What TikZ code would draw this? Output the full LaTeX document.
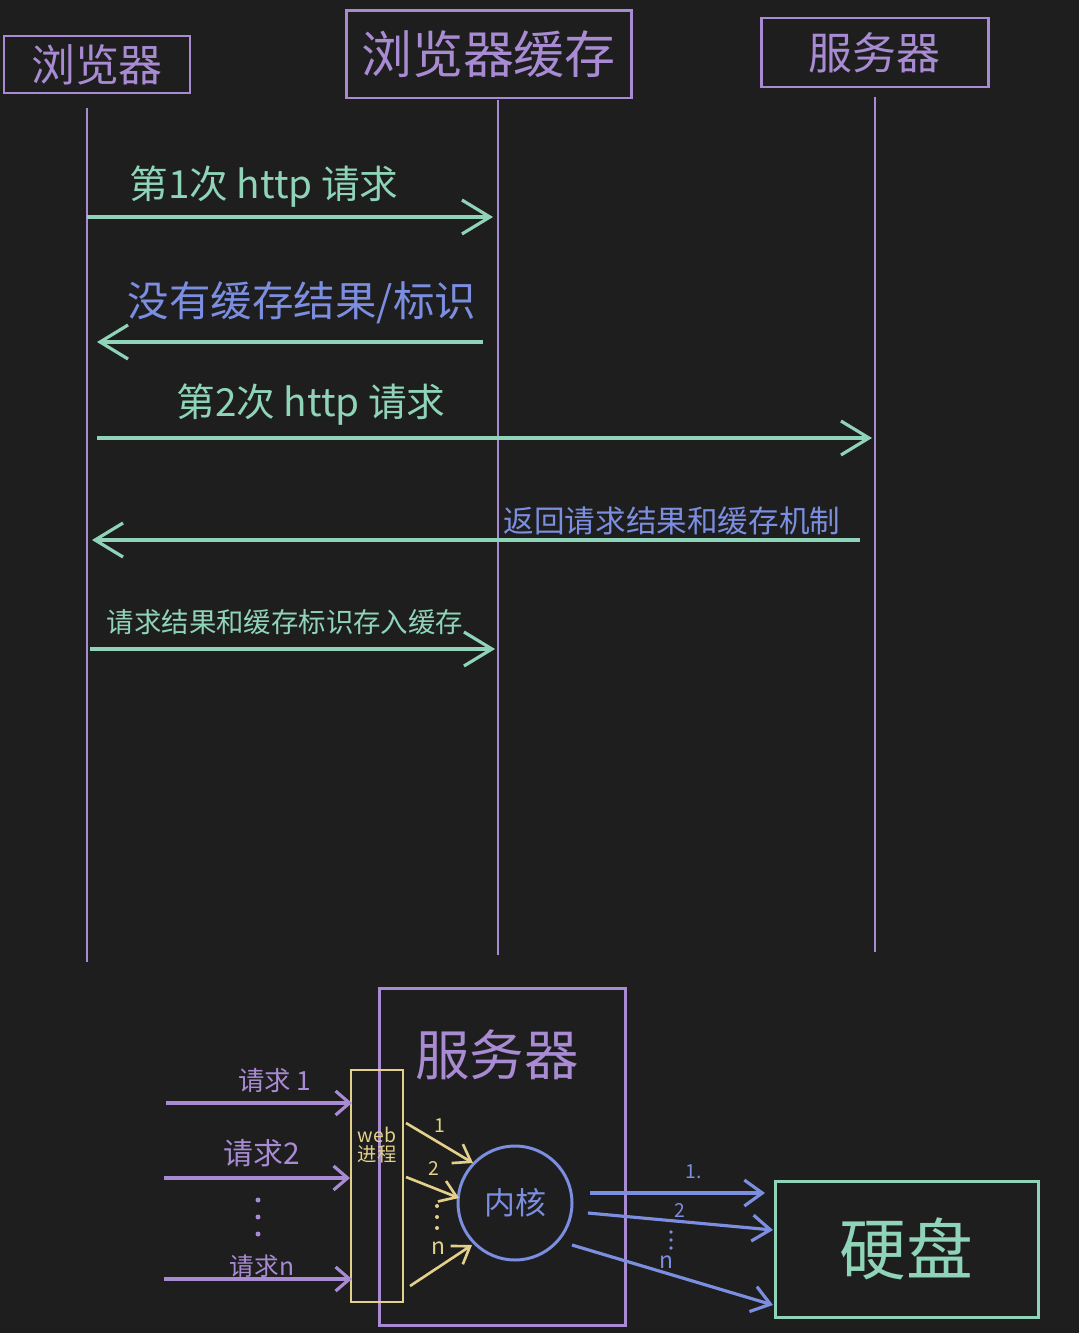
\documentclass[tikz,border=0pt]{standalone}
\usepackage{fontspec}
\newfontfamily\cjk{Noto Sans CJK SC}
\usetikzlibrary{arrows.meta}
\definecolor{bg}{HTML}{1E1E1E}
\definecolor{lila}{HTML}{A98BD3}
\definecolor{mint}{HTML}{8FD4B8}
\definecolor{blau}{HTML}{7C8EE0}
\definecolor{gelb}{HTML}{E3D08A}
\tikzset{
  box/.style={draw=lila,line width=0.85pt,text=lila,inner sep=0pt},
  life/.style={draw=lila,line width=0.55pt},
  msg/.style={draw=mint,line width=0.9pt,-{Straight Barb[length=2.8mm,width=3.4mm,line width=0.9pt]}},
  req/.style={draw=lila,line width=0.9pt,-{Straight Barb[length=1.4mm,width=2.4mm,line width=0.9pt]}},
  web/.style={draw=gelb,line width=0.75pt,-{Straight Barb[length=1.6mm,width=2.2mm,line width=0.75pt]}},
  io/.style={draw=blau,line width=0.9pt,-{Straight Barb[length=1.8mm,width=2.6mm,line width=0.9pt]}},
  lbl/.style={font=\cjk\fontsize{#1}{#1}\selectfont,inner sep=0pt},
}
\begin{document}
\begin{tikzpicture}[x=0.1mm,y=-0.1mm]
\useasboundingbox[fill=bg] (0,0) rectangle (1079,1333);
\node[box,minimum width=18.6mm,minimum height=5.7mm,lbl=12.5] (br) at (97,64.5) {浏览器};
\node[box,minimum width=28.5mm,minimum height=8.7mm,lbl=14.5] (ca) at (488.5,54.5) {浏览器缓存};
\node[box,minimum width=22.7mm,minimum height=6.9mm,lbl=12.5] (sv) at (874.5,52.5) {服务器};
\coordinate (brT) at (87,108);
\coordinate (brB) at (87,962);
\coordinate (caT) at (498,100);
\coordinate (caB) at (498,955);
\coordinate (svT) at (875,97);
\coordinate (svB) at (875,952);
\draw[life] (brT)--(brB);
\draw[life] (caT)--(caB);
\draw[life] (svT)--(svB);
\coordinate (m1a) at (87,217);
\coordinate (m1b) at (493,217);
\coordinate (m2a) at (483,342);
\coordinate (m2b) at (97,342);
\coordinate (m3a) at (97,438);
\coordinate (m3b) at (872,438);
\coordinate (m4a) at (860,540);
\coordinate (m4b) at (92,540);
\coordinate (m5a) at (90,649);
\coordinate (m5b) at (495,649);
\draw[msg] (m1a)--(m1b);
\draw[msg] (m2a)--(m2b);
\draw[msg] (m3a)--(m3b);
\draw[msg] (m4a)--(m4b);
\draw[msg] (m5a)--(m5b);
\node[lbl=11,text=mint] (t1) at (264,187) {第1次 http 请求};
\node[lbl=11.8,text=blau] (t2) at (302,303) {没有缓存结果/标识};
\node[lbl=11,text=mint] (t3) at (311,405) {第2次 http 请求};
\node[lbl=8.7,text=blau] (t4) at (672,521) {返回请求结果和缓存机制};
\node[lbl=7.8,text=mint] (t5) at (285,622) {请求结果和缓存标识存入缓存};
\node[box,minimum width=24.6mm,minimum height=33.7mm] (srv) at (502,1156.5) {};
\node[lbl=15.5,text=lila] (srvT) at (497,1055) {服务器};
\node[draw=gelb,line width=0.75pt,minimum width=5.2mm,minimum height=23.2mm,inner sep=0pt] (wp) at (377,1186) {};
\node[lbl=5.5,text=gelb,align=center] (wpT) at (377,1145) {web\\进程};
\coordinate (r1a) at (166,1103);
\coordinate (r1b) at (352,1103);
\coordinate (r2a) at (164,1178);
\coordinate (r2b) at (350,1178);
\coordinate (r3a) at (164,1279);
\coordinate (r3b) at (352,1279);
\draw[req] (r1a)--(r1b);
\draw[req] (r2a)--(r2b);
\draw[req] (r3a)--(r3b);
\node[lbl=7.5,text=lila] (q1) at (275,1080) {请求 1};
\node[lbl=8.5,text=lila] (q2) at (262,1153) {请求2};
\node[lbl=7,text=lila] (q3) at (262,1266) {请求n};
\foreach \y in {1200,1217,1234} \fill[lila] (258,\y) circle (0.25mm);
\node[draw=blau,line width=0.85pt,circle,minimum size=11.4mm,inner sep=0pt,lbl=8.8,text=blau] (kern) at (515,1203) {内核};
\coordinate (w1a) at (406,1123);
\coordinate (w1b) at (473,1163);
\coordinate (w2a) at (406,1177);
\coordinate (w2b) at (459,1198);
\coordinate (w3a) at (410,1286);
\coordinate (w3b) at (472,1245);
\draw[web] (w1a)--(w1b);
\draw[web] (w2a)--(w2b);
\draw[web] (w3a)--(w3b);
\node[lbl=5.5,text=gelb] (n1) at (440,1126) {1};
\node[lbl=5.5,text=gelb] (n2) at (434,1168) {2};
\foreach \y in {1206,1217,1228} \fill[gelb] (437,\y) circle (0.2mm);
\node[lbl=6.5,text=gelb] (n3) at (438,1248) {n};
\node[draw=mint,line width=0.85pt,minimum width=26.3mm,minimum height=13.6mm,inner sep=0pt,lbl=19,text=mint] (hd) at (906.5,1249) {硬盘};
\coordinate (d1a) at (590,1193);
\coordinate (d1b) at (765,1193);
\coordinate (d2a) at (588,1213);
\coordinate (d2b) at (773,1230);
\coordinate (d3a) at (572,1245);
\coordinate (d3b) at (773,1305);
\draw[io] (d1a)--(d1b);
\draw[io] (d2a)--(d2b);
\draw[io] (d3a)--(d3b);
\node[lbl=5.5,text=blau] (o1) at (694,1172) {1.};
\node[lbl=5.5,text=blau] (o2) at (680,1210) {2};
\foreach \y in {1232,1240,1248} \fill[blau] (671,\y) circle (0.18mm);
\node[lbl=6.5,text=blau] (o3) at (666,1262) {n};
\end{tikzpicture}
\end{document}
